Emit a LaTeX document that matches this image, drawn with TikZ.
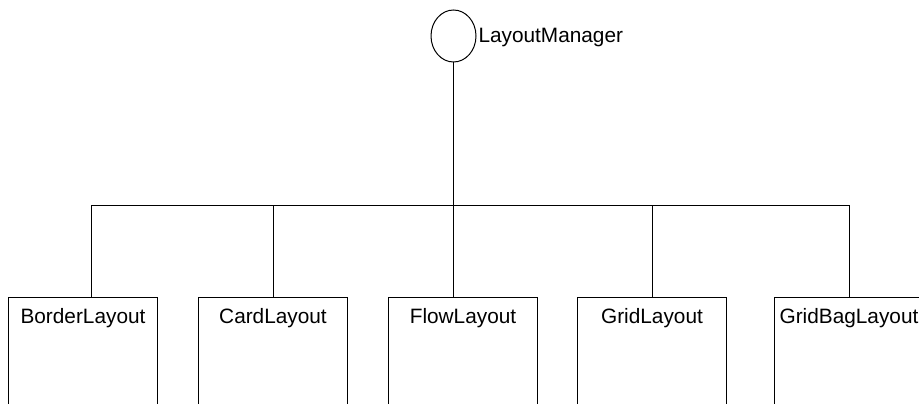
\documentclass[tikz,border=0pt]{standalone}
\usepackage{fontspec}
\setmainfont{Liberation Sans}
\usetikzlibrary{positioning,shapes.geometric}

\begin{document}
\begin{tikzpicture}[
                x=0.75pt, y=-0.75pt,          % pixel grid
                node distance=30pt,
                line width=0.75pt,
                font=\fontsize{15.6}{19}\selectfont,
                iface/.style={
                    ellipse,
                    draw,
                    minimum width=33.75pt,
                    minimum height=39pt,
                    inner sep=0pt
                },
                layoutbox/.style={
                    rectangle,
                    draw,
                    anchor=north,
                    minimum width=111.75pt,
                    inner xsep=0pt,
                    inner ysep=8.25pt,
                    text height=11.3pt,
                    text depth=90pt           % box runs off the bottom
                }
            ]
                \useasboundingbox (0,0) rectangle (919,403);
                \clip (0,0) rectangle (919,403);

                % interface
                \node[iface] (mgr) at (453.5,36) {};
                \node[anchor=base west, inner sep=0pt] (mgrname) at (478,43) {LayoutManager};
                \coordinate (bus) at (453.5,205.5);

                % classes
                \node[layoutbox] (border) at (83,296.5) {BorderLayout};
                \node[layoutbox, right=of border] (card) {CardLayout};
                \node[layoutbox, right=of card] (flow) {FlowLayout};
                \node[layoutbox, right=29.25pt of flow] (grid) {GridLayout};
                \node[layoutbox, right=35.25pt of grid] (gridbag) {GridBagLayout};

                % edges
                \draw (mgr) -- (bus);
                \draw (bus) -| ([xshift=6pt]border.north);
                \draw (bus) -| (card.north);
                \draw (bus) -- (bus |- flow.north);
                \draw (bus) -| (grid.north);
                \draw (bus) -| (gridbag.north);
            \end{tikzpicture}
\end{document}
